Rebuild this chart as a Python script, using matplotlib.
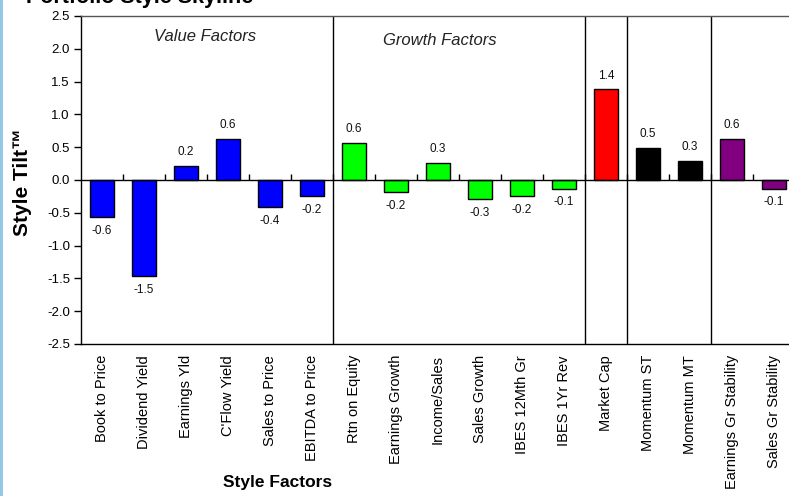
import matplotlib
matplotlib.use("Agg")
import matplotlib.pyplot as plt
from matplotlib.patches import Rectangle
import numpy as np

plt.rcParams['font.family'] = ['Liberation Sans', 'DejaVu Sans']

factors = ["Book to Price", "Dividend Yield", "Earnings Yld", "C'Flow Yield",
           "Sales to Price", "EBITDA to Price", "Rtn on Equity", "Earnings Growth",
           "Income/Sales", "Sales Growth", "IBES 12Mth Gr", "IBES 1Yr Rev",
           "Market Cap", "Momentum ST", "Momentum MT", "Earnings Gr Stability",
           "Sales Gr Stability"]
tilts = [-0.56, -1.46, 0.22, 0.63, -0.41, -0.24, 0.57, -0.18, 0.26, -0.29,
         -0.24, -0.13, 1.38, 0.49, 0.29, 0.62, -0.13]
groups = ["value"] * 6 + ["growth"] * 6 + ["size"] + ["momentum"] * 2 + ["stability"] * 2
group_colors = {"value": "#0000FF", "growth": "#00FF00", "size": "#FF0000",
                "momentum": "#000000", "stability": "#800080"}
group_breaks = [5.5, 11.5, 12.5, 14.5]
yticks = [-2.5, -2.0, -1.5, -1.0, -0.5, 0.0, 0.5, 1.0, 1.5, 2.0, 2.5]

W, H = 789, 496
fig = plt.figure(figsize=(W / 100, H / 100), dpi=100)
ax = fig.add_axes([81 / W, 152 / H, 714 / W, 328 / H])

x = np.arange(len(factors))
colors = [group_colors[g] for g in groups]
ax.bar(x, tilts, width=0.55, color=colors, edgecolor="black", linewidth=1.0, zorder=3)

for xi, v in zip(x, tilts):
    off = 10 if v >= 0 else -10
    ax.annotate(f"{v:.1f}", (xi, v), xytext=(0, off), textcoords="offset points",
                ha="center", va="center", fontsize=8.5, color="#111111")

ax.set_xlim(-0.5, len(factors) - 0.5)
ax.set_ylim(-2.5, 2.5)
ax.set_yticks(yticks)
ax.set_yticklabels([f"{t:.1f}" for t in yticks], fontsize=9.5)
ax.tick_params(axis="y", direction="out", length=5, width=1, pad=3, color="black")

ax.set_xticks(x)
ax.set_xticklabels(factors, rotation=90, fontsize=10.5)
ax.tick_params(axis="x", length=0, pad=8)

ax.spines["right"].set_visible(False)
for s in ["left", "bottom", "top"]:
    ax.spines[s].set_linewidth(1.0)
ax.spines["top"].set_color("#555555")

# zero line with category boundary ticks
ax.axhline(0, color="black", linewidth=1.0, zorder=4)
zero_axis = ax.secondary_xaxis(0.5)
zero_axis.set_xticks(np.arange(0.5, len(factors) - 0.5, 1.0))
zero_axis.set_xticklabels([])
zero_axis.tick_params(direction="out", length=4, width=1, color="black")
zero_axis.spines["bottom"].set_visible(False)
zero_axis.spines["top"].set_visible(False)

for b in group_breaks:
    ax.axvline(b, color="black", linewidth=1.0, zorder=2)

ax.text(2.45, 2.18, "Value Factors", style="italic", fontsize=12, ha="center", va="center",
        color="#222222")
ax.text(8.05, 2.13, "Growth Factors", style="italic", fontsize=12, ha="center", va="center",
        color="#222222")

fig.text(23 / W, 1 - 182 / H, "Style Tilt\u2122", rotation=90, fontsize=15, fontweight="bold",
         ha="center", va="center")
fig.text(278 / W, 1 - 482 / H, "Style Factors", fontsize=12.5, fontweight="bold",
         ha="center", va="center")
fig.text(26 / W, 1 - 3 / H, "Portfolio Style Skyline", fontsize=15.5, fontweight="bold",
         ha="left", va="baseline")

fig.patches.append(Rectangle((0, 0), 3 / W, 1, transform=fig.transFigure,
                             facecolor="#93C9E6", edgecolor="none"))

fig.savefig("out.png", dpi=100)
